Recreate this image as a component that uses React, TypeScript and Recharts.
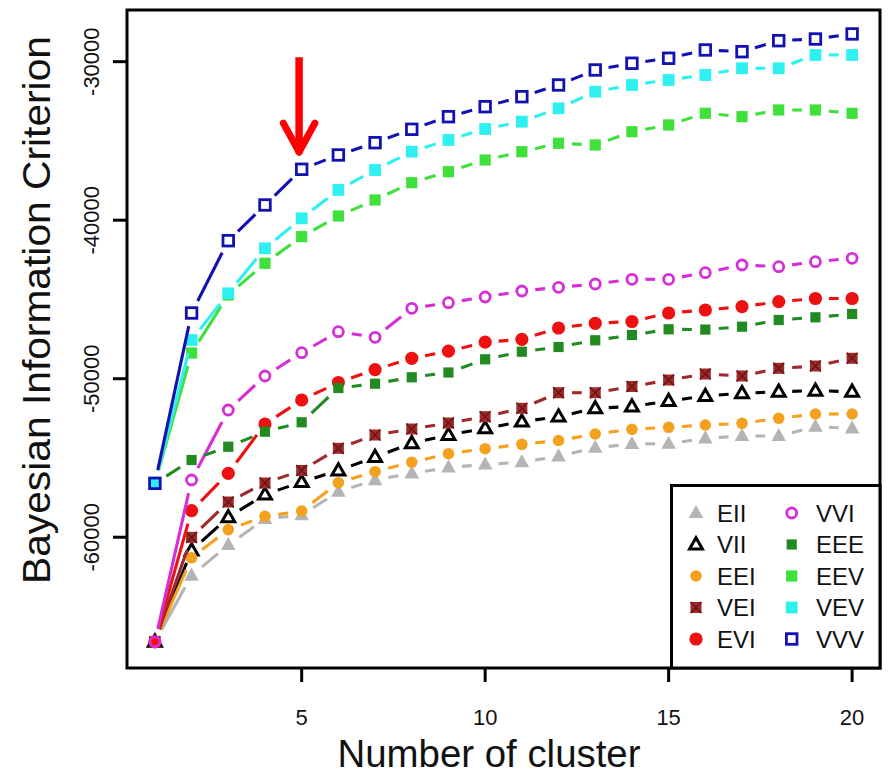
import React from 'react'
import {
  LineChart, Line, XAxis, YAxis, ReferenceArea, ReferenceLine, Legend,
} from 'recharts'

// number of clusters (x axis)
const clusters = [1, 2, 3, 4, 5, 6, 7, 8, 9, 10, 11, 12, 13, 14, 15, 16, 17, 18, 19, 20]

// BIC values, one list per model
const EII = [-66600, -62416, -60491, -58851, -58600, -57129, -56391, -55968, -55602, -55413, -55268, -54895, -54353, -54119, -54100, -53760, -53614, -53614, -53028, -53129]
const VII = [-66600, -60838, -58744, -57305, -56517, -55791, -54940, -54075, -53551, -53129, -52712, -52397, -51867, -51753, -51406, -51091, -50921, -50820, -50757, -50820]
const EEI = [-66600, -61299, -59520, -58681, -58346, -56561, -55867, -55268, -54731, -54416, -54138, -53898, -53488, -53192, -53066, -52921, -52813, -52498, -52227, -52227]
const VEI = [-66600, -60006, -57778, -56580, -55791, -54391, -53551, -53173, -52794, -52397, -51867, -50883, -50883, -50492, -50082, -49703, -49829, -49343, -49198, -48712]
const EVI = [-66600, -58327, -55968, -52857, -51343, -50239, -49425, -48712, -48265, -47697, -47514, -46801, -46504, -46391, -45855, -45665, -45457, -45142, -44940, -44940]
const VVI = [-66600, -56391, -51974, -49829, -48359, -47034, -47388, -45558, -45205, -44845, -44467, -44233, -44025, -43728, -43728, -43312, -42826, -42933, -42618, -42404]
const EEE = [-56600, -55129, -54290, -53343, -52750, -50586, -50315, -49911, -49608, -48776, -48296, -47999, -47577, -47243, -46883, -46900, -46719, -46296, -46126, -45918]
const EEV = [-56600, -48378, -44719, -42719, -41041, -39735, -38725, -37634, -36940, -36202, -35678, -35148, -35255, -34416, -33994, -33255, -33470, -33047, -33047, -33255]
const VEV = [-56600, -47558, -44612, -41773, -39880, -38094, -36833, -35678, -34940, -34246, -33785, -32940, -31893, -31470, -31155, -30839, -30416, -30416, -29577, -29577]
const VVV = [-56600, -45855, -41293, -39041, -36789, -35886, -35110, -34265, -33470, -32839, -32208, -31470, -30524, -30100, -29785, -29262, -29369, -28675, -28570, -28250]

const xTicks = [5, 10, 15, 20]
const yTicks = [-60000, -50000, -40000, -30000]

// red arrow pointing at the chosen model (VVV, 5 clusters)
const ARROW_X = 4.93
const ARROW_TOP = -29720
const ARROW_SHAFT_END = -35350
const ARROW_TIP = -35700
const ARROW_WING_Y = -33880
const ARROW_WING_L = 4.5
const ARROW_WING_R = 5.36

const X_DOMAIN: [number, number] = [0.24, 20.76]
const Y_DOMAIN: [number, number] = [-68250, -26740]

const FONT = "'Liberation Sans', Arial, Helvetica, sans-serif"
const GAP = 13.5
const LW = 3.1

type Kind = 'triFill' | 'triOpen' | 'circFill' | 'circOpen' | 'sqFill' | 'sqOpen' | 'sqX'

type Series = { key: string; values: number[]; color: string; kind: Kind; size: number }

const SERIES: Series[] = [
  { key: 'EII', values: EII, color: '#b4b4b4', kind: 'triFill', size: 7.3 },
  { key: 'VII', values: VII, color: '#000000', kind: 'triOpen', size: 6.8 },
  { key: 'EEI', values: EEI, color: '#f4a11f', kind: 'circFill', size: 5.8 },
  { key: 'VEI', values: VEI, color: '#9e2a2b', kind: 'sqX', size: 5.5 },
  { key: 'EVI', values: EVI, color: '#ee1111', kind: 'circFill', size: 6.6 },
  { key: 'VVI', values: VVI, color: '#d62ed6', kind: 'circOpen', size: 5 },
  { key: 'EEE', values: EEE, color: '#218a21', kind: 'sqFill', size: 5.1 },
  { key: 'EEV', values: EEV, color: '#3fe03a', kind: 'sqFill', size: 5.6 },
  { key: 'VEV', values: VEV, color: '#2ef0f0', kind: 'sqFill', size: 5.9 },
  { key: 'VVV', values: VVV, color: '#1212b0', kind: 'sqOpen', size: 5.3 },
]

const LEGEND_COLS = [
  ['EII', 'VII', 'EEI', 'VEI', 'EVI'],
  ['VVI', 'EEE', 'EEV', 'VEV', 'VVV'],
]

const data = clusters.map((k, i) => {
  const row: Record<string, number> = { k }
  SERIES.forEach(s => { row[s.key] = s.values[i] })
  return row
})

function Marker({ kind, color, size, x, y }: { kind: Kind; color: string; size: number; x: number; y: number }) {
  const s = size
  switch (kind) {
    case 'triFill':
      return <polygon points={`${x},${y - s * 1.1} ${x - s},${y + s * 0.7} ${x + s},${y + s * 0.7}`} fill={color} />
    case 'triOpen':
      return (
        <polygon
          points={`${x},${y - s} ${x - s * 0.95},${y + s * 0.65} ${x + s * 0.95},${y + s * 0.65}`}
          fill="none" stroke={color} strokeWidth={3}
        />
      )
    case 'circFill':
      return <circle cx={x} cy={y} r={s} fill={color} />
    case 'circOpen':
      return <circle cx={x} cy={y} r={s} fill="none" stroke={color} strokeWidth={2.8} />
    case 'sqFill':
      return <rect x={x - s} y={y - s} width={s * 2} height={s * 2} fill={color} />
    case 'sqOpen':
      return <rect x={x - s} y={y - s} width={s * 2} height={s * 2} fill="none" stroke={color} strokeWidth={2.8} />
    case 'sqX':
      return (
        <g>
          <rect x={x - s} y={y - s} width={s * 2} height={s * 2} fill={color} />
          <path d={`M${x - s} ${y - s}L${x + s} ${y + s}M${x + s} ${y - s}L${x - s} ${y + s}`} stroke="#6a1616" strokeWidth={1.6} />
        </g>
      )
  }
  return null
}

// type="b" look: markers plus line pieces that stop short of each marker
function makeDot(s: Series) {
  const pts: [number, number][] = []
  const n = clusters.length
  return (props: any) => {
    const { cx, cy, index } = props
    if (index === 0) pts.length = 0
    pts[index] = [cx, cy]
    const marker = <Marker kind={s.kind} color={s.color} size={s.size} x={cx} y={cy} />
    if (index !== n - 1) return <g key={`${s.key}-${index}`}>{marker}</g>
    const segs = []
    for (let i = 0; i < pts.length - 1; i++) {
      if (!pts[i] || !pts[i + 1]) continue
      const [x1, y1] = pts[i]
      const [x2, y2] = pts[i + 1]
      const len = Math.hypot(x2 - x1, y2 - y1)
      if (len <= GAP * 2) continue
      const ux = (x2 - x1) / len
      const uy = (y2 - y1) / len
      segs.push(
        <line
          key={`${s.key}-seg-${i}`}
          x1={x1 + ux * GAP} y1={y1 + uy * GAP}
          x2={x2 - ux * GAP} y2={y2 - uy * GAP}
          stroke={s.color} strokeWidth={LW}
        />
      )
    }
    return <g key={`${s.key}-${index}`}>{segs}{marker}</g>
  }
}

const DOTS = Object.fromEntries(SERIES.map(s => [s.key, makeDot(s)]))

function XTick({ x, y, payload }: any) {
  return (
    <text x={x} y={y + 41} textAnchor="middle" fontSize={22} fontFamily={FONT} fill="#111">
      {payload.value}
    </text>
  )
}

function YTick({ x, y, payload }: any) {
  const tx = x - 12
  return (
    <text x={tx} y={y} transform={`rotate(-90, ${tx}, ${y})`} textAnchor="middle" fontSize={22} fontFamily={FONT} fill="#111">
      {payload.value}
    </text>
  )
}

function XTitle() {
  return (
    <text x={489} y={767} textAnchor="middle" fontSize={38} fontFamily={FONT} fill="#111" textLength={303} lengthAdjust="spacingAndGlyphs">
      Number of cluster
    </text>
  )
}

function YTitle() {
  return (
    <text x={50} y={310} transform="rotate(-90, 50, 310)" textAnchor="middle" fontSize={38} fontFamily={FONT} fill="#111" textLength={548} lengthAdjust="spacingAndGlyphs">
      Bayesian Information Criterion
    </text>
  )
}

function LegendBox() {
  const byKey = Object.fromEntries(SERIES.map(s => [s.key, s]))
  const colX = [26, 121.7]
  const textX = [47, 146]
  const rowY = [29, 60.5, 92, 123.5, 155]
  return (
    <svg width={212} height={186} style={{ display: 'block' }}>
      <rect x={1.5} y={1.5} width={208.5} height={182.5} fill="#fff" stroke="#000" strokeWidth={3} />
      {LEGEND_COLS.map((col, c) =>
        col.map((key, r) => {
          const s = byKey[key]
          return (
            <g key={key}>
              <Marker kind={s.kind} color={s.color} size={s.size} x={colX[c]} y={rowY[r]} />
              <text x={textX[c]} y={rowY[r] + 8.5} fontSize={24} fontFamily={FONT} fill="#111">{key}</text>
            </g>
          )
        })
      )}
    </svg>
  )
}

export default function App() {
  return (
    <div style={{ position: 'absolute', left: 0, top: 0, background: '#fff' }}>
      <LineChart width={890} height={779} data={data} margin={{ top: 10, right: 10, left: 0, bottom: 0 }}>
        <XAxis
          dataKey="k"
          type="number"
          domain={X_DOMAIN}
          allowDataOverflow
          ticks={xTicks}
          height={111}
          axisLine={false}
          tickSize={14}
          tickLine={{ stroke: '#000', strokeWidth: 3 }}
          tick={<XTick />}
          label={<XTitle />}
        />
        <YAxis
          type="number"
          domain={Y_DOMAIN}
          allowDataOverflow
          ticks={yTicks}
          width={127}
          axisLine={false}
          tickSize={14}
          tickLine={{ stroke: '#000', strokeWidth: 3 }}
          tick={<YTick />}
          label={<YTitle />}
        />
        {SERIES.map(s => (
          <Line
            key={s.key}
            dataKey={s.key}
            stroke="none"
            dot={DOTS[s.key]}
            activeDot={false}
            legendType="none"
            isAnimationActive={false}
          />
        ))}
        <ReferenceLine
          segment={[{ x: ARROW_X, y: ARROW_TOP }, { x: ARROW_X, y: ARROW_SHAFT_END }]}
          stroke="#ff0000" strokeWidth={7.5} ifOverflow="visible"
        />
        <ReferenceLine
          segment={[{ x: ARROW_WING_L, y: ARROW_WING_Y }, { x: ARROW_X, y: ARROW_TIP }]}
          stroke="#ff0000" strokeWidth={7} strokeLinecap="round" ifOverflow="visible"
        />
        <ReferenceLine
          segment={[{ x: ARROW_WING_R, y: ARROW_WING_Y }, { x: ARROW_X, y: ARROW_TIP }]}
          stroke="#ff0000" strokeWidth={7} strokeLinecap="round" ifOverflow="visible"
        />
        <ReferenceArea
          x1={X_DOMAIN[0]} x2={X_DOMAIN[1]} y1={Y_DOMAIN[0]} y2={Y_DOMAIN[1]}
          fill="none" fillOpacity={0} stroke="#000" strokeWidth={3} ifOverflow="visible"
        />
        <Legend
          layout="horizontal"
          verticalAlign="middle"
          align="center"
          content={<LegendBox />}
          wrapperStyle={{ left: 670, top: 484, width: 212, height: 186 }}
        />
      </LineChart>
    </div>
  )
}
